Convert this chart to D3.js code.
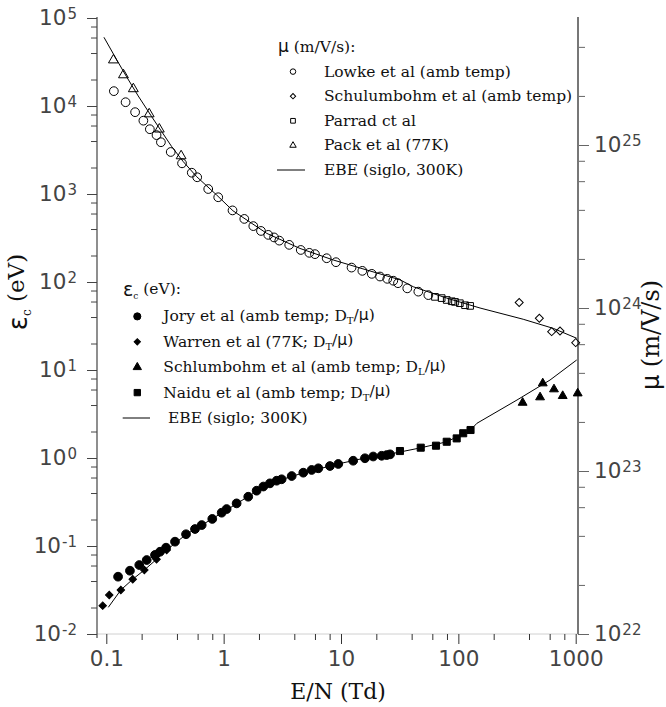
<!DOCTYPE html>
<html><head><meta charset="utf-8">
<script src="https://cdn.jsdelivr.net/npm/d3@7"></script>
<style>body{margin:0;background:#fff} svg{display:block}</style>
</head><body><svg id="c" width="666" height="707"></svg>
<script>
// ---------- data ----------
const xTickLabels = ["0.1", "1", "10", "100", "1000"];
const xMajor = [0.1, 1, 10, 100, 1000];
const leftExps = [-2, -1, 0, 1, 2, 3, 4, 5];
const rightExps = [22, 23, 24, 25];
const minorMult = [2, 4, 6, 8];

// mobility (right axis, m/V/s)
const lowkeEN = [0.116,0.146,0.176,0.207,0.235,0.268,0.292,0.354,0.442,0.535,0.595,0.739,0.899,1.19,1.50,1.79,2.08,2.40,2.69,2.98,3.62,4.54,5.37,6.00,7.55,9.06,12.3,15.2,18.3,21.5,24.8,27.9,30.6,36.7,45.6,55.5];
const lowkeMu = [2.14e25,1.83e25,1.59e25,1.41e25,1.25e25,1.15e25,1.04e25,9.06e24,7.72e24,6.76e24,6.34e24,5.37e24,4.78e24,3.97e24,3.52e24,3.18e24,2.97e24,2.81e24,2.71e24,2.59e24,2.44e24,2.27e24,2.18e24,2.14e24,2.02e24,1.91e24,1.77e24,1.69e24,1.62e24,1.56e24,1.51e24,1.47e24,1.42e24,1.32e24,1.26e24,1.20e24];
const schulEN = [330, 490, 624, 735, 1000];
const schulMu = [1.08e24, 8.65e23, 7.16e23, 7.23e23, 6.13e23];
const parradEN = [63.2, 72.1, 79.6, 87.8, 93.6, 103, 114, 126];
const parradMu = [1.17e24, 1.15e24, 1.12e24, 1.10e24, 1.09e24, 1.07e24, 1.04e24, 1.03e24];
const packEN = [0.115, 0.140, 0.170, 0.232, 0.283, 0.434];
const packMu = [3.32e25, 2.69e25, 2.21e25, 1.55e25, 1.25e25, 8.57e24];
const ebeMuEN = [0.0955,0.123,0.149,0.187,0.244,0.296,0.361,0.453,0.589,0.873,1.20,2.33,4.47,8.60,16.6,31.8,41.3,79.6,153,357,644,1020];
const ebeMu = [4.58e25,3.32e25,2.62e25,2.00e25,1.49e25,1.21e25,9.77e24,7.90e24,6.39e24,4.93e24,3.95e24,2.87e24,2.32e24,1.97e24,1.71e24,1.49e24,1.35e24,1.15e24,1.00e24,8.53e23,7.50e23,6.52e23];

// characteristic energy (left axis, eV)
const joryEN = [0.126,0.159,0.191,0.221,0.260,0.287,0.323,0.385,0.478,0.570,0.650,0.800,0.962,1.06,1.29,1.62,1.91,2.18,2.48,2.83,3.12,3.80,4.77,5.62,6.41,8.05,9.48,12.7,16.0,18.8,22.2,24.5,26.2];
const joryEps = [0.0448,0.0524,0.0608,0.0693,0.0791,0.0861,0.0957,0.112,0.136,0.156,0.173,0.203,0.239,0.263,0.305,0.363,0.425,0.474,0.515,0.552,0.573,0.624,0.681,0.731,0.764,0.811,0.855,0.931,0.993,1.04,1.06,1.08,1.10];
const warrenEN = [0.0932, 0.106, 0.133, 0.168, 0.211, 0.268, 0.327];
const warrenEps = [0.0210, 0.0277, 0.0316, 0.0419, 0.0534, 0.0706, 0.0901];
const schlEN = [353, 497, 524, 653, 775, 1040];
const schlEps = [4.25, 4.90, 7.06, 6.04, 5.07, 5.43];
const naiduEN = [31.8, 47.8, 64.5, 79.6, 96.8, 110, 127];
const naiduEps = [1.20, 1.31, 1.38, 1.53, 1.67, 1.91, 2.08];
const ebeEpsEN = [0.104,0.133,0.168,0.211,0.268,0.327,0.478,0.796,1.30,1.92,2.85,4.74,9.42,16.0,26.2,47.1,78.5,110,127,144,316,604,1020];
const ebeEps = [0.0201,0.0316,0.0419,0.0534,0.0706,0.0901,0.135,0.203,0.304,0.422,0.548,0.676,0.855,1.00,1.11,1.30,1.52,1.87,2.08,2.48,4.56,7.69,13.0];

// ---------- layout ----------
const svg = d3.select("#c");
const L = 97, R = 578, T = 18, B = 634;
const x = d3.scaleLog().domain([0.1, 1000]).range([106.3, 575.7]);
const yL = d3.scaleLog().domain([1e-2, 1e5]).range([B, T]);
const yR = d3.scaleLog().domain([1e22, 1e25]).range([B, B - 3 * 163]);
const [xd0, xd1] = [x.invert(L), x.invert(R)];
const TICKFONT = "'DejaVu Sans', sans-serif";
const SERIF = "'DejaVu Serif', serif";
const TFS = 21.5;

function minors(exps, lo, hi) {
  const out = [];
  exps.forEach(e => minorMult.forEach(m => { const v = m * Math.pow(10, e); if (v > lo && v < hi) out.push(v); }));
  return out;
}

// x axis line
svg.append("line").attr("x1", L).attr("x2", R).attr("y1", B).attr("y2", B)
  .attr("stroke", "#d0d0d0").attr("stroke-width", 1);

// bottom axis
const xMinor = minors([-2, -1, 0, 1, 2, 3], xd0, xd1);
const gxm = svg.append("g").attr("transform", `translate(0,${B})`)
  .call(d3.axisBottom(x).tickValues(xMinor).tickSize(6).tickFormat(""));
const gx = svg.append("g").attr("transform", `translate(0,${B})`)
  .call(d3.axisBottom(x).tickValues(xMajor).tickSize(10).tickPadding(7)
    .tickFormat((d, i) => xTickLabels[i]));
[gxm, gx].forEach(g => { g.select(".domain").remove(); g.selectAll("line").attr("stroke", "#333"); });
gx.selectAll("text").attr("font-family", TICKFONT).attr("font-size", TFS).attr("fill", "#444");

function supLabels(g, anchor) {
  g.selectAll(".tick text").each(function (d) {
    const e = Math.round(Math.log10(d));
    const t = d3.select(this).text(null).attr("font-family", TICKFONT)
      .attr("font-size", TFS).attr("fill", "#444").attr("text-anchor", anchor);
    t.append("tspan").text("10");
    t.append("tspan").attr("dx", 1).attr("dy", "-0.42em").attr("font-size", 15).text(e < 0 ? "-" + (-e) : String(e));
  });
}

// left axis
const gym = svg.append("g").attr("transform", `translate(${L},0)`)
  .call(d3.axisLeft(yL).tickValues(minors(leftExps, 1e-2, 1e5)).tickSize(6).tickFormat(""));
const gy = svg.append("g").attr("transform", `translate(${L},0)`)
  .call(d3.axisLeft(yL).tickValues(leftExps.map(e => Math.pow(10, e))).tickSize(10).tickPadding(10));
[gym, gy].forEach(g => { g.select(".domain").remove(); g.selectAll("line").attr("stroke", "#444"); });
supLabels(gy, "end");
svg.append("line").attr("x1", L).attr("x2", L).attr("y1", T - 1).attr("y2", B + 4)
  .attr("stroke", "#444").attr("stroke-width", 1.2);

// right axis
const yRtop = yR.invert(T + 2);
const gyrm = svg.append("g").attr("transform", `translate(${R},0)`)
  .call(d3.axisRight(yR).tickValues(minors([22, 23, 24, 25], 1e22, yRtop)).tickSize(7).tickFormat(""));
const gyr = svg.append("g").attr("transform", `translate(${R},0)`)
  .call(d3.axisRight(yR).tickValues(rightExps.map(e => Math.pow(10, e))).tickSize(11).tickPadding(5));
[gyrm, gyr].forEach(g => { g.select(".domain").remove(); g.selectAll("line").attr("stroke", "#666"); });
supLabels(gyr, "start");
svg.append("line").attr("x1", R).attr("x2", R).attr("y1", T - 1).attr("y2", B)
  .attr("stroke", "#777").attr("stroke-width", 2);

// ---------- titles ----------
svg.append("text").attr("x", 338).attr("y", 699).attr("text-anchor", "middle")
  .attr("font-family", SERIF).attr("font-size", 22).attr("fill", "#111").text("E/N (Td)");
const lt = svg.append("text").attr("transform", "translate(27,292) rotate(-90)").attr("text-anchor", "middle")
  .attr("font-family", SERIF).attr("font-size", 23).attr("fill", "#111");
lt.append("tspan").attr("font-family", TICKFONT).attr("font-size", 26).text("ε");
lt.append("tspan").attr("font-size", 12).attr("dy", "0.35em").text("c");
lt.append("tspan").attr("dy", "-0.3em").text(" (eV)");
svg.append("text").attr("transform", "translate(659,335) rotate(-90)").attr("text-anchor", "middle")
  .attr("font-family", SERIF).attr("font-size", 24).attr("fill", "#111")
  .call(t => { t.append("tspan").attr("font-family", TICKFONT).text("μ"); t.append("tspan").text(" (m/V/s)"); });

// ---------- marks ----------
const zip = (a, b) => a.map((v, i) => [v, b[i]]);
const line = (ys) => d3.line().x(d => x(d[0])).y(d => ys(d[1]));
svg.append("path").datum(zip(ebeMuEN, ebeMu)).attr("d", line(yR))
  .attr("fill", "none").attr("stroke", "#000").attr("stroke-width", 1);
svg.append("path").datum(zip(ebeEpsEN, ebeEps)).attr("d", line(yL))
  .attr("fill", "none").attr("stroke", "#000").attr("stroke-width", 1);

function marks(en, vals, ys, type, size, filled, rot) {
  svg.append("g").selectAll("path").data(zip(en, vals)).join("path")
    .attr("d", d3.symbol().type(type).size(size))
    .attr("transform", d => `translate(${x(d[0])},${ys(d[1])})${rot ? " rotate(45)" : ""}`)
    .attr("fill", filled ? "#000" : "none").attr("stroke", "#000").attr("stroke-width", 1);
}
marks(lowkeEN, lowkeMu, yR, d3.symbolCircle, 60, false);
marks(packEN, packMu, yR, d3.symbolTriangle, 42, false);
marks(parradEN, parradMu, yR, d3.symbolSquare, 44, false);
marks(schulEN, schulMu, yR, d3.symbolSquare, 32, false, true);
marks(warrenEN, warrenEps, yL, d3.symbolSquare, 28, true, true);
marks(joryEN, joryEps, yL, d3.symbolCircle, 60, true);
marks(naiduEN, naiduEps, yL, d3.symbolSquare, 50, true);
marks(schlEN, schlEps, yL, d3.symbolTriangle, 34, true);

// ---------- legends ----------
function legend(x0, yHead, header, rows, symX, txtX, lineX, dy) {
  const g = svg.append("g").attr("font-family", SERIF).attr("font-size", 15.5).attr("fill", "#111");
  const h = g.append("text").attr("x", x0).attr("y", yHead + 5);
  header(h);
  rows.forEach((r, i) => {
    const yy = yHead + dy * (i + 1);
    if (r.type === "line") {
      g.append("line").attr("x1", lineX[0]).attr("x2", lineX[1]).attr("y1", yy).attr("y2", yy)
        .attr("stroke", "#000").attr("stroke-width", 1);
    } else {
      g.append("path").attr("d", d3.symbol().type(r.type).size(r.size))
        .attr("transform", `translate(${symX},${yy})${r.rot ? " rotate(45)" : ""}`)
        .attr("fill", r.filled ? "#000" : "none").attr("stroke", "#000").attr("stroke-width", 1);
    }
    const t = g.append("text").attr("x", r.tx || txtX).attr("y", yy + 5);
    r.label.forEach(p => {
      const s = t.append("tspan").text(p.t);
      if (p.sub) s.attr("font-size", 10).attr("dy", "0.3em");
      if (p.back) s.attr("dy", "-0.3em");
      if (p.sans) s.attr("font-family", TICKFONT);
    });
  });
}
const muHeader = h => { h.append("tspan").attr("font-family", TICKFONT).attr("font-size", 17).text("μ"); h.append("tspan").text(" (m/V/s):"); };
legend(278, 47, muHeader, [
  { type: d3.symbolCircle, size: 24, label: [{ t: "Lowke et al (amb temp)" }] },
  { type: d3.symbolSquare, size: 14, rot: true, label: [{ t: "Schulumbohm et al (amb temp)" }] },
  { type: d3.symbolSquare, size: 22, label: [{ t: "Parrad ct al" }] },
  { type: d3.symbolTriangle, size: 18, label: [{ t: "Pack et al (77K)" }] },
  { type: "line", label: [{ t: "EBE (siglo, 300K)" }] }
], 293, 324, [277, 305], 24.6);

const epsHeader = h => {
  h.append("tspan").attr("font-family", TICKFONT).attr("font-size", 19).text("ε");
  h.append("tspan").attr("font-size", 9).attr("dy", "0.3em").text("c");
  h.append("tspan").attr("dy", "-0.3em").text(" (eV):");
};
const dmu = (sub) => [{ t: "D" }, { t: sub, sub: true }, { t: "/", back: true }, { t: "μ", sans: true }, { t: ")" }];
legend(123, 291, epsHeader, [
  { type: d3.symbolCircle, size: 40, filled: true, label: [{ t: "Jory et al (amb temp; " }, ...dmu("T")] },
  { type: d3.symbolSquare, size: 20, filled: true, rot: true, label: [{ t: "Warren et al (77K; " }, ...dmu("T")] },
  { type: d3.symbolTriangle, size: 30, filled: true, label: [{ t: "Schlumbohm et al (amb temp; " }, ...dmu("L")] },
  { type: d3.symbolSquare, size: 40, filled: true, label: [{ t: "Naidu et al (amb temp; " }, ...dmu("T")] },
  { type: "line", tx: 168, label: [{ t: "EBE (siglo; 300K)" }] }
], 137.3, 163.3, [122.7, 150], 25.4);
</script>
</body></html>
